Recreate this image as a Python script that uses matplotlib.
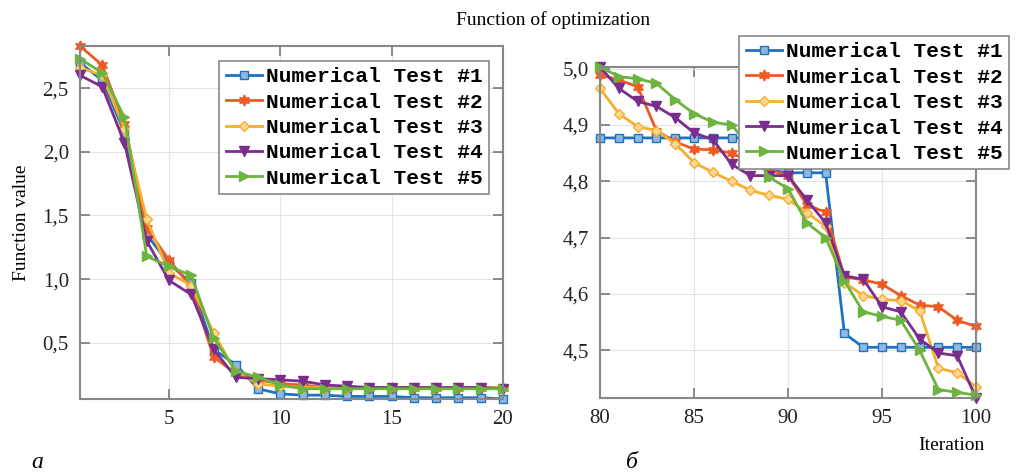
import matplotlib
matplotlib.use("Agg")
import matplotlib.pyplot as plt
from matplotlib.ticker import FuncFormatter
import numpy as np

# left panel (a): iterations 1..20
it_a = np.arange(1, 21)
a_test1 = [2.70, 2.56, 2.15, 1.35, 1.12, 0.97, 0.45, 0.33, 0.14, 0.10,
           0.09, 0.09, 0.08, 0.08, 0.08, 0.07, 0.07, 0.07, 0.07, 0.06]
a_test2 = [2.83, 2.68, 2.22, 1.40, 1.15, 0.94, 0.39, 0.26, 0.21, 0.18,
           0.17, 0.15, 0.15, 0.15, 0.15, 0.15, 0.15, 0.15, 0.15, 0.15]
a_test3 = [2.66, 2.60, 2.18, 1.47, 1.05, 0.95, 0.58, 0.27, 0.18, 0.16,
           0.15, 0.15, 0.15, 0.15, 0.15, 0.15, 0.15, 0.15, 0.15, 0.15]
a_test4 = [2.60, 2.51, 2.07, 1.30, 0.99, 0.88, 0.45, 0.23, 0.22, 0.21,
           0.20, 0.17, 0.16, 0.15, 0.15, 0.15, 0.15, 0.15, 0.15, 0.14]
a_test5 = [2.73, 2.62, 2.27, 1.18, 1.10, 1.03, 0.54, 0.28, 0.23, 0.17,
           0.14, 0.14, 0.14, 0.14, 0.14, 0.14, 0.14, 0.14, 0.14, 0.14]

# right panel (b): iterations 80..100
it_b = np.arange(80, 101)
b_test1 = [4.877, 4.877, 4.877, 4.877, 4.877, 4.877, 4.877, 4.877, 4.877, 4.82,
           4.815, 4.815, 4.815, 4.53, 4.505, 4.505, 4.505, 4.505, 4.505, 4.505, 4.505]
b_test2 = [4.989, 4.980, 4.968, 4.890, 4.870, 4.857, 4.856, 4.850, 4.835, 4.820,
           4.810, 4.758, 4.745, 4.630, 4.625, 4.617, 4.597, 4.580, 4.577, 4.553, 4.542]
b_test3 = [4.965, 4.920, 4.897, 4.890, 4.867, 4.833, 4.816, 4.800, 4.784, 4.775,
           4.768, 4.744, 4.720, 4.620, 4.597, 4.590, 4.588, 4.570, 4.468, 4.460, 4.435]
b_test4 = [5.003, 4.965, 4.942, 4.933, 4.913, 4.886, 4.874, 4.830, 4.810, 4.810,
           4.810, 4.767, 4.726, 4.632, 4.626, 4.577, 4.568, 4.520, 4.495, 4.490, 4.415]
b_test5 = [5.003, 4.986, 4.982, 4.974, 4.945, 4.920, 4.905, 4.900, 4.860, 4.807,
           4.787, 4.726, 4.700, 4.623, 4.568, 4.560, 4.553, 4.500, 4.430, 4.425, 4.420]

labels = ["Numerical Test #1", "Numerical Test #2", "Numerical Test #3",
          "Numerical Test #4", "Numerical Test #5"]
colors = ["#1f72c0", "#ee5a24", "#f6ae2d", "#7b2d8e", "#6db33f"]
faces = ["#8fb8e0", "#ee5a24", "#fbd796", "#7b2d8e", "#6db33f"]
markers = ["s", (6, 1, 0), "D", "v", ">"]
msizes = [5.5, 8, 5.5, 7, 7]

serif = "Liberation Serif"
plt.rcParams["font.family"] = serif

fig = plt.figure(figsize=(10.16, 4.72), dpi=100)
ax1 = fig.add_axes([0.0787, 0.1547, 0.4163, 0.7478])
ax2 = fig.add_axes([0.5906, 0.1568, 0.3700, 0.7013])


def dec_comma(v, pos):
    return ("%.1f" % v).replace(".", ",")


def style(ax):
    ax.grid(True, color="#e4e4e4", lw=0.8)
    ax.set_axisbelow(True)
    ax.tick_params(direction="in", length=7, width=1.2, colors="#777777",
                   labelcolor="#222222", labelsize=15, top=True, right=True, pad=8)
    for s in ax.spines.values():
        s.set_color("#888888")
        s.set_linewidth(1.5)


a_series = [a_test1, a_test2, a_test3, a_test4, a_test5]
b_series = [b_test1, b_test2, b_test3, b_test4, b_test5]

for ys, lab, c, fc, m, ms in zip(a_series, labels, colors, faces, markers, msizes):
    ax1.plot(it_a, ys, color=c, marker=m, markersize=ms, markerfacecolor=fc,
             markeredgecolor=c, lw=2, label=lab, clip_on=False)
for ys, lab, c, fc, m, ms in zip(b_series, labels, colors, faces, markers, msizes):
    ax2.plot(it_b, ys, color=c, marker=m, markersize=ms, markerfacecolor=fc,
             markeredgecolor=c, lw=2, label=lab, clip_on=False)

style(ax1)
style(ax2)

ax1.set_xlim(1, 20)
ax1.set_ylim(min(a_test1), max(a_test2))
ax1.set_xticks([5, 10, 15, 20])
ax1.set_yticks([0.5, 1.0, 1.5, 2.0, 2.5])
ax1.yaxis.set_major_formatter(FuncFormatter(dec_comma))
ax1.set_ylabel("Function value", fontsize=14, labelpad=9)

ax2.set_xlim(80, 100)
ax2.set_ylim(min(b_test4), max(b_test4))
ax2.set_xticks([80, 85, 90, 95, 100])
ax2.set_yticks([4.5, 4.6, 4.7, 4.8, 4.9, 5.0])
ax2.yaxis.set_major_formatter(FuncFormatter(dec_comma))

legfont = {"family": "Liberation Mono", "weight": "bold", "size": 15.3}
for ax, anchor in [(ax1, (489 / 1016, 1 - 61 / 472)), (ax2, (1009 / 1016, 1 - 36 / 472))]:
    leg = ax.legend(loc="upper right", bbox_to_anchor=anchor,
                    bbox_transform=fig.transFigure, prop=legfont,
                    fancybox=False, framealpha=1, edgecolor="#888888",
                    handlelength=1.7, handletextpad=0.2, labelspacing=0.3,
                    borderpad=0.3, borderaxespad=0)
    leg.get_frame().set_linewidth(1.2)
    leg.set_zorder(5)

fig.text(553 / 1016, 1 - 20 / 472, "Function of optimization", fontsize=14,
         ha="center", va="center")
fig.text(951 / 1016, 1 - 446 / 472, "Iteration", fontsize=14, ha="center", va="center")
fig.text(37 / 1016, 1 - 462 / 472, "а", fontsize=17, style="italic", ha="center", va="center")
fig.text(632 / 1016, 1 - 462 / 472, "б", fontsize=17, style="italic", ha="center", va="center")

fig.savefig("out.png", dpi=100)
